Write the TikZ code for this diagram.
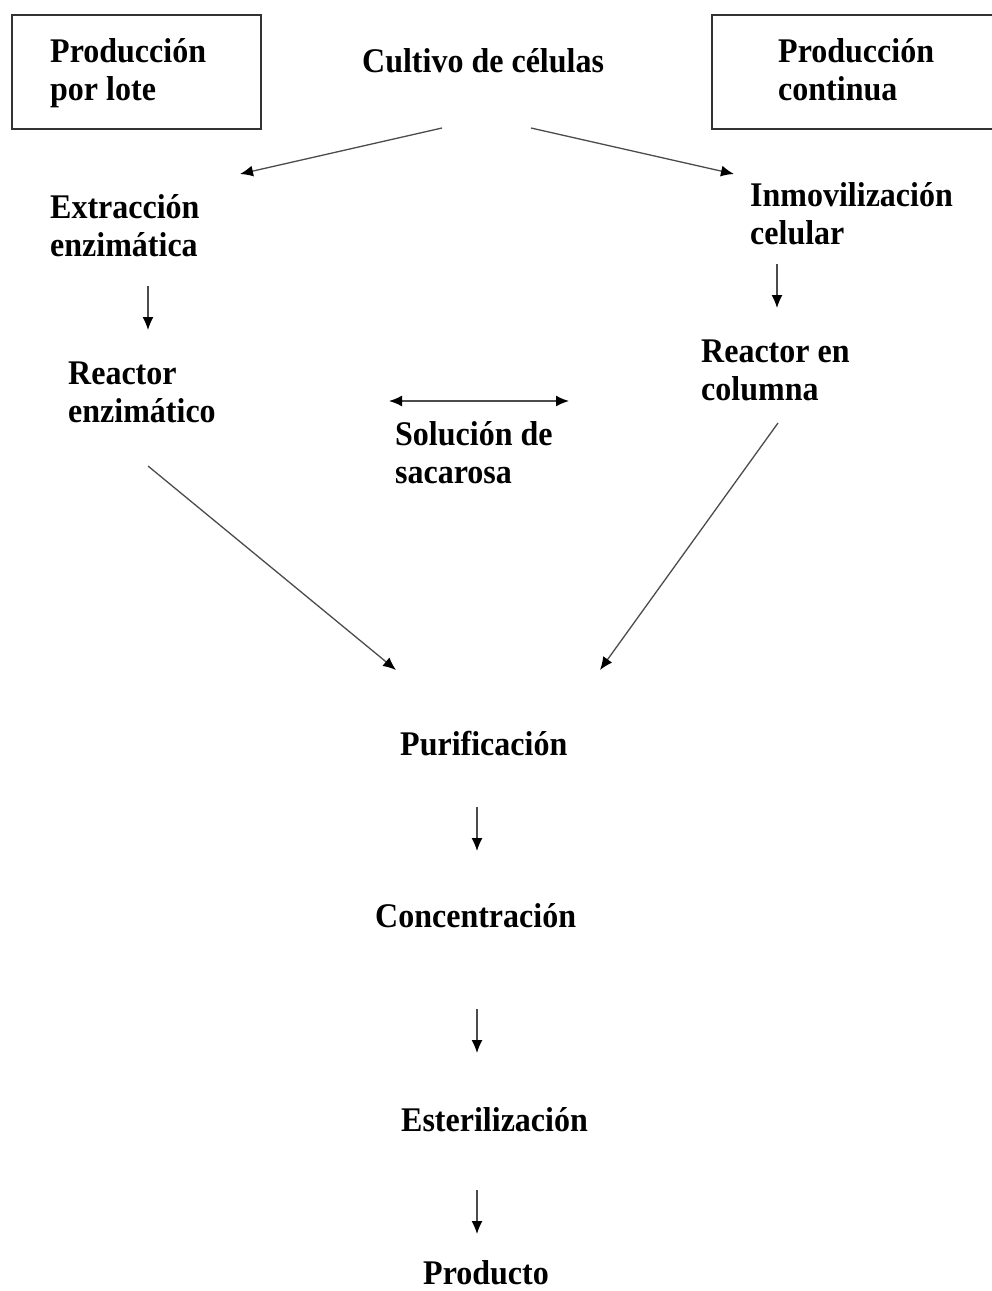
\documentclass[tikz,border=0pt]{standalone}
\usepackage{graphicx}
\usepackage{fontspec}
\setmainfont{Liberation Serif}
\usetikzlibrary{arrows.meta}
% slightly tall type, as in the printed chart
\newcommand{\tall}[1]{\scalebox{1}[1.08]{#1}}
\newcommand{\twoline}[2]{\tall{\vtop{\baselineskip=36.1pt\lineskiplimit=-100pt\hbox{#1}\hbox{#2}}}}
\begin{document}
\begin{tikzpicture}[x=1pt,y=-1pt,
  lbl/.style={anchor=base west,inner sep=0pt,font=\fontsize{32}{39}\selectfont\bfseries},
  frame/.style={draw=black!80,line width=1.8pt},
  flow/.style={draw=black!70,line width=1.3pt,-{Latex[length=13pt,width=11pt,color=black]}},
  both/.style={draw=black!70,line width=1.6pt,{Latex[length=13pt,width=11pt,color=black]}-{Latex[length=13pt,width=11pt,color=black]}}]
\useasboundingbox (0,0) rectangle (992,1291);
\fill[white] (0,0) rectangle (992,1291);

% header boxes
\draw[frame] (12,15) rectangle (261,129);
\draw[frame] (712,15) rectangle (1000,129);

% text
\node[lbl] (lote)  at (50,62)   {\twoline{Producción}{por lote}};
\node[lbl] (cont)  at (778,62)  {\twoline{Producción}{continua}};
\node[lbl] (cult)  at (362,72)  {\tall{Cultivo de células}};
\node[lbl] (extr)  at (50,218)  {\twoline{Extracción}{enzimática}};
\node[lbl] (inmo)  at (750,206) {\twoline{Inmovilización}{celular}};
\node[lbl] (renz)  at (68,384)  {\twoline{Reactor}{enzimático}};
\node[lbl] (rcol)  at (701,362) {\twoline{Reactor en}{columna}};
\node[lbl] (sac)   at (395,445) {\twoline{Solución de}{sacarosa}};
\node[lbl] (puri)  at (400,755) {\tall{Purificación}};
\node[lbl] (conc)  at (375,927) {\tall{Concentración}};
\node[lbl] (este)  at (401,1131){\tall{Esterilización}};
\node[lbl] (prod)  at (423,1284){\tall{Producto}};

% arrow end points
\coordinate (c1a) at (442,128); \coordinate (c1b) at (240,174);
\coordinate (c2a) at (531,128); \coordinate (c2b) at (734,174);
\coordinate (e1)  at (148,286); \coordinate (e2)  at (148,330);
\coordinate (i1)  at (777,264); \coordinate (i2)  at (777,308);
\coordinate (s1)  at (389,401); \coordinate (s2)  at (569,401);
\coordinate (r1)  at (148,466); \coordinate (r2)  at (396,670);
\coordinate (k1)  at (778,423); \coordinate (k2)  at (600,670);
\coordinate (p1)  at (477,807); \coordinate (p2)  at (477,851);
\coordinate (q1)  at (477,1009);\coordinate (q2)  at (477,1053);
\coordinate (t1)  at (477,1190);\coordinate (t2)  at (477,1234);

% connectors
\draw[flow] (c1a) -- (c1b);
\draw[flow] (c2a) -- (c2b);
\draw[flow] (e1) -- (e2);
\draw[flow] (i1) -- (i2);
\draw[both] (s1) -- (s2);
\draw[flow] (r1) -- (r2);
\draw[flow] (k1) -- (k2);
\draw[flow] (p1) -- (p2);
\draw[flow] (q1) -- (q2);
\draw[flow] (t1) -- (t2);
\end{tikzpicture}
\end{document}
